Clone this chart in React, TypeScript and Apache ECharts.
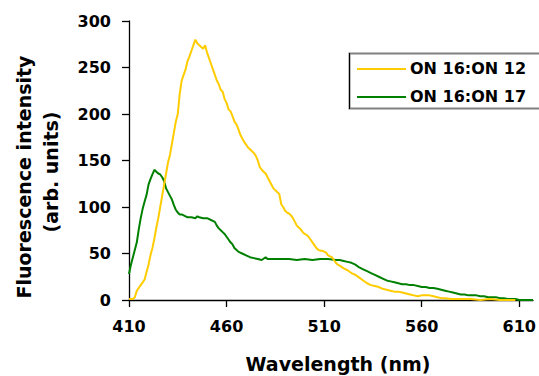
import React, { useEffect, useRef } from "react";
import * as echarts from "echarts";

const seriesNames = ["ON 16:ON 12", "ON 16:ON 17"];
const seriesColors = ["#FFCC00", "#008000"];

const wlYellow = [410, 412, 413, 414, 416, 418, 419, 420, 421, 422, 423, 424, 425, 426, 427, 428, 429, 430, 431, 432, 433, 434, 435, 436, 437, 438, 439, 440, 441, 442, 443, 444, 445, 446, 447, 448, 449, 450, 451, 452, 453, 454, 455, 456, 457, 458, 459, 460, 461, 462, 463, 464, 465, 466, 467, 468, 469, 470, 471, 472, 473, 474, 475, 476, 477, 478, 479, 480, 481, 482, 483, 484, 485, 486, 487, 488, 489, 490, 491, 492, 493, 494, 495, 496, 497, 498, 499, 500, 501, 502, 503, 504, 505, 506, 507, 508, 509, 510, 511, 512, 513, 514, 515, 516, 517, 518, 520, 522, 524, 526, 528, 530, 532, 534, 536, 538, 540, 542, 544, 546, 548, 550, 552, 554, 556, 558, 560, 562, 564, 566, 568, 570, 572, 575, 580, 585, 590, 595, 600, 605, 608];
const valYellow = [1, 1, 3, 10, 16, 22, 30, 38, 48, 56, 66, 78, 88, 100, 112, 124, 136, 148, 156, 168, 180, 192, 200, 222, 236, 242, 248, 257, 262, 268, 274, 280, 276, 274, 272, 270, 274, 266, 260, 254, 248, 242, 236, 232, 226, 224, 216, 212, 205, 203, 198, 192, 189, 184, 178, 174, 170, 167, 164, 162, 160, 158, 155, 150, 143, 140, 138, 136, 132, 128, 124, 120, 118, 116, 114, 103, 100, 96, 94, 93, 91, 88, 84, 80, 78, 76, 73, 71, 70, 68, 65, 62, 59, 56, 54, 53, 53, 52, 51, 48, 47, 46, 43, 40, 38, 37, 34, 32, 29, 27, 24, 21, 18, 16, 15, 14, 12, 11, 10, 9, 9, 8, 7, 6, 5, 4, 5, 5, 5, 4, 3, 2, 2, 1, 1, 1, 0, 1, 0, 0, 0];

const wlGreen = [410, 411, 412, 413, 414, 415, 416, 417, 418, 419, 420, 421, 422, 423, 424, 425, 426, 427, 428, 429, 430, 431, 432, 433, 434, 435, 436, 437, 438, 439, 440, 442, 444, 445, 446, 448, 450, 452, 454, 455, 456, 457, 458, 459, 460, 461, 462, 463, 464, 465, 466, 467, 468, 470, 472, 474, 476, 478, 480, 481, 484, 488, 492, 496, 500, 504, 508, 512, 516, 518, 520, 522, 524, 526, 528, 530, 532, 534, 536, 538, 540, 542, 544, 546, 548, 550, 552, 554, 556, 558, 560, 562, 564, 566, 568, 570, 572, 574, 576, 578, 580, 582, 584, 586, 588, 590, 592, 594, 596, 598, 600, 602, 604, 606, 608, 610, 614, 617];
const valGreen = [28, 38, 46, 54, 62, 76, 88, 98, 106, 113, 124, 130, 135, 140, 138, 136, 135, 132, 128, 120, 116, 112, 108, 102, 97, 94, 92, 92, 91, 90, 89, 89, 88, 90, 89, 88, 88, 86, 84, 80, 77, 75, 73, 71, 68, 65, 62, 60, 56, 54, 52, 51, 50, 48, 46, 45, 44, 43, 46, 44, 44, 44, 44, 43, 44, 43, 44, 44, 43, 43, 42, 41, 40, 38, 35, 33, 31, 29, 27, 25, 23, 21, 20, 19, 18, 17, 17, 16, 16, 15, 14, 14, 13, 13, 12, 11, 10, 9, 8, 7, 6, 6, 5, 5, 5, 4, 4, 3, 3, 3, 2, 2, 1, 1, 1, 0, 0, 0];

const xTicks = [410, 460, 510, 560, 610];
const xTitle = "Wavelength (nm)";
const yTitle1 = "Fluorescence intensity";
const yTitle2 = "(arb. units)";

const FONT = "DejaVu Sans";

export default function App() {
  const ref = useRef<HTMLDivElement>(null);
  useEffect(() => {
    if (!ref.current) return;
    const chart = echarts.init(ref.current, null, { renderer: "svg" });
    const pairs = (xs: number[], ys: number[]) => xs.map((x, i) => [x, ys[i]]);
    chart.setOption({
      animation: false,
      backgroundColor: "#ffffff",
      grid: { left: 129, right: 0, top: 21, bottom: 76 },
      xAxis: {
        type: "value",
        min: 410,
        max: 617,
        axisLine: { show: true, onZero: false, lineStyle: { color: "#000", width: 1.3 } },
        axisTick: { show: true, length: 7, customValues: xTicks, lineStyle: { color: "#000", width: 1.3 } },
        axisLabel: {
          customValues: xTicks,
          margin: 18,
          color: "#000",
          fontFamily: FONT,
          fontWeight: "bold",
          fontSize: 16,
        },
        splitLine: { show: false },
      },
      yAxis: {
        type: "value",
        min: 0,
        max: 300,
        interval: 50,
        axisLine: { show: true, lineStyle: { color: "#000", width: 1.3 } },
        axisTick: { show: true, length: 7, lineStyle: { color: "#000", width: 1.3 } },
        axisLabel: {
          margin: 18,
          color: "#000",
          fontFamily: FONT,
          fontWeight: "bold",
          fontSize: 16,
        },
        splitLine: { show: false },
      },
      series: [
        {
          name: seriesNames[1],
          type: "line",
          data: pairs(wlGreen, valGreen),
          showSymbol: false,
          lineStyle: { color: seriesColors[1], width: 2 },
          itemStyle: { color: seriesColors[1] },
        },
        {
          name: seriesNames[0],
          type: "line",
          data: pairs(wlYellow, valYellow),
          showSymbol: false,
          lineStyle: { color: seriesColors[0], width: 2 },
          itemStyle: { color: seriesColors[0] },
        },
      ],
      graphic: [
        {
          type: "text",
          x: 24,
          y: 177,
          rotation: Math.PI / 2,
          style: {
            text: yTitle1,
            fill: "#000",
            font: `bold 19px "${FONT}"`,
            textAlign: "center",
            textVerticalAlign: "middle",
          },
        },
        {
          type: "text",
          x: 51,
          y: 172,
          rotation: Math.PI / 2,
          style: {
            text: yTitle2,
            fill: "#000",
            font: `bold 19px "${FONT}"`,
            textAlign: "center",
            textVerticalAlign: "middle",
          },
        },
        {
          type: "text",
          x: 338,
          y: 364,
          style: {
            text: xTitle,
            fill: "#000",
            font: `bold 19px "${FONT}"`,
            textAlign: "center",
            textVerticalAlign: "middle",
          },
        },
        {
          type: "rect",
          shape: { x: 349.5, y: 53.5, width: 200, height: 55 },
          style: { fill: "#fff", stroke: "#808080", lineWidth: 2 },
        },
        {
          type: "line",
          shape: { x1: 349.5, y1: 53, x2: 349.5, y2: 109 },
          style: { stroke: "#000", lineWidth: 1 },
        },
        {
          type: "line",
          shape: { x1: 357, y1: 69, x2: 406, y2: 69 },
          style: { stroke: seriesColors[0], lineWidth: 2 },
        },
        {
          type: "line",
          shape: { x1: 357, y1: 97, x2: 406, y2: 97 },
          style: { stroke: seriesColors[1], lineWidth: 2 },
        },
        {
          type: "text",
          x: 410,
          y: 68,
          style: {
            text: seriesNames[0],
            fill: "#000",
            font: `bold 16px "${FONT}"`,
            textAlign: "left",
            textVerticalAlign: "middle",
          },
        },
        {
          type: "text",
          x: 410,
          y: 96,
          style: {
            text: seriesNames[1],
            fill: "#000",
            font: `bold 16px "${FONT}"`,
            textAlign: "left",
            textVerticalAlign: "middle",
          },
        },
      ],
    });
    return () => chart.dispose();
  }, []);
  return (
    <div
      ref={ref}
      style={{ position: "fixed", left: 0, top: 0, width: 539, height: 376 }}
    />
  );
}
